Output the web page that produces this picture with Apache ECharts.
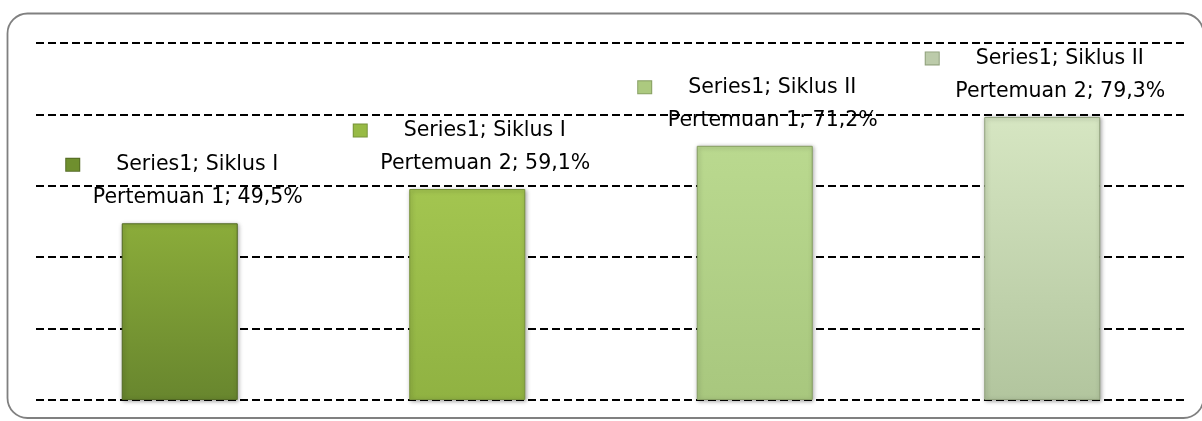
<!DOCTYPE html>
<html>
<head>
<meta charset="utf-8">
<script src="https://cdn.jsdelivr.net/npm/echarts@6/dist/echarts.min.js"></script>
<style>
html,body{margin:0;padding:0;background:#fff;}
#chart{width:1202px;height:421px;}
</style>
</head>
<body>
<div id="chart"></div>
<script>
// ---- data ----
var seriesName = 'Series1';
var cycles = ['Siklus I', 'Siklus I', 'Siklus II', 'Siklus II'];
var meetings = ['Pertemuan 1', 'Pertemuan 2', 'Pertemuan 1', 'Pertemuan 2'];
var values = [49.5, 59.1, 71.2, 79.3];
var yTicks = [0, 20, 40, 60, 80, 100];

// ---- styling ----
var barTop = ['#8bac3a', '#a3c550', '#bad98f', '#d6e6c2'];
var barBottom = ['#68862e', '#90b242', '#a8c77e', '#b2c59e'];
var barEdge = ['#536a24', '#77933a', '#879f63', '#8fa07b'];
var markColor = ['#6f8f2e', '#97ba45', '#acc97f', '#bccbaa'];

var categories = cycles.map(function (c, i) { return c + ' ' + meetings[i]; });

function fmtPct(v) { return v.toFixed(1).replace('.', ',') + '%'; }

var rich = {
  t: { fontFamily: 'DejaVu Sans', fontSize: 20.5, color: '#000', lineHeight: 33 },
  g: { width: 37, height: 10 },
  p: { width: 51, height: 10 }
};
values.forEach(function (v, i) {
  rich['m' + i] = {
    width: 13, height: 12,
    backgroundColor: markColor[i],
    borderColor: barEdge[i], borderWidth: 1
  };
});

var data = values.map(function (v, i) {
  return {
    value: v,
    itemStyle: {
      color: new echarts.graphic.LinearGradient(0, 0, 0, 1, [
        { offset: 0, color: barTop[i] },
        { offset: 1, color: barBottom[i] }
      ]),
      borderColor: barEdge[i],
      borderWidth: 1,
      shadowColor: 'rgba(0,0,0,0.35)',
      shadowBlur: 4,
      shadowOffsetX: 1,
      shadowOffsetY: 1
    }
  };
});

var chart = echarts.init(document.getElementById('chart'));
chart.setOption({
  animation: false,
  backgroundColor: '#fff',
  graphic: [{
    type: 'rect',
    shape: { x: 7.5, y: 13.5, width: 1196, height: 404.5, r: 20 },
    style: { fill: 'none', stroke: '#808080', lineWidth: 1.8 },
    z: -1
  }],
  grid: { left: 36, right: 16, top: 43, bottom: 21 },
  xAxis: {
    type: 'category',
    data: categories,
    axisLine: { show: false },
    axisTick: { show: false },
    axisLabel: { show: false }
  },
  yAxis: {
    type: 'value',
    min: yTicks[0],
    max: yTicks[yTicks.length - 1],
    interval: 20,
    axisLine: { show: false },
    axisTick: { show: false },
    axisLabel: { show: false },
    splitLine: { lineStyle: { color: '#000', width: 2, type: [8, 4] } }
  },
  series: [{
    type: 'bar',
    name: seriesName,
    data: data,
    barWidth: 116,
    label: {
      show: true,
      position: 'top',
      distance: 9,
      offset: [18, 0],
      align: 'center',
      rich: rich,
      formatter: function (p) {
        var i = p.dataIndex;
        return '{m' + i + '|}{g|}{t|' + seriesName + '; ' + cycles[i] + '}{p|}\n{t|' +
          meetings[i] + '; ' + fmtPct(values[i]) + '}';
      }
    }
  }]
});
</script>
</body>
</html>
